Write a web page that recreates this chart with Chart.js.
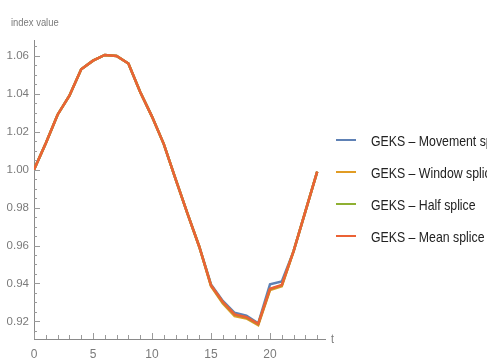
<!DOCTYPE html>
<html>
<head>
<meta charset="utf-8">
<script src="https://cdn.jsdelivr.net/npm/chart.js@4.4.1/dist/chart.umd.min.js"></script>
<style>
  body { margin: 0; background: #fff; overflow: hidden; }
  .wrap { position: relative; width: 487px; height: 358px; overflow: hidden; }
  .narrow { font-family: "Liberation Sans", Arial, sans-serif; transform: scaleX(0.82); transform-origin: left center; white-space: nowrap; }
  .ylabel { position: absolute; left: 11px; top: 16px; font-size: 11.5px; color: #7a7a7a; }
  .xlabel { position: absolute; left: 331px; top: 331px; font-size: 13px; color: #7a7a7a; }
  .legend { position: absolute; left: 336px; top: 124px; white-space: nowrap; }
  .legend .row { height: 32px; display: flex; align-items: center; }
  .legend .swatch { width: 20px; height: 2.5px; margin-right: 15px; flex: none; }
  .legend .txt { display: inline-block; font-size: 15px; color: #222; }
</style>
</head>
<body>
<div class="wrap">
  <canvas id="myChart" width="487" height="358"></canvas>
  <div class="ylabel narrow">index value</div>
  <div class="xlabel narrow">t</div>
  <div class="legend" id="legend"></div>
</div>
<script>
let tValues = [0, 1, 2, 3, 4, 5, 6, 7, 8, 9, 10, 11, 12, 13, 14, 15, 16, 17, 18, 19, 20, 21, 22, 23, 24];

let movementSplice = [1.000, 1.014, 1.029, 1.039, 1.053, 1.0575, 1.0605, 1.060, 1.056, 1.041, 1.028, 1.0135, 0.995, 0.977, 0.9595, 0.9395, 0.9308, 0.9245, 0.9230, 0.9190, 0.9395, 0.9410, 0.957, 0.978, 0.999];
let windowSplice = [1.000, 1.014, 1.029, 1.039, 1.053, 1.0575, 1.0605, 1.060, 1.056, 1.041, 1.028, 1.0135, 0.995, 0.977, 0.9595, 0.9385, 0.9295, 0.9228, 0.9215, 0.9180, 0.9365, 0.9385, 0.957, 0.978, 0.999];
let halfSplice = [1.000, 1.014, 1.029, 1.039, 1.053, 1.0575, 1.0605, 1.060, 1.056, 1.041, 1.028, 1.0135, 0.995, 0.977, 0.9595, 0.9390, 0.9300, 0.9235, 0.9220, 0.9185, 0.9370, 0.9390, 0.957, 0.978, 0.999];
let meanSplice = [1.000, 1.014, 1.029, 1.039, 1.053, 1.0575, 1.0605, 1.060, 1.056, 1.041, 1.028, 1.0135, 0.995, 0.977, 0.9595, 0.9390, 0.9302, 0.9237, 0.9222, 0.9187, 0.9372, 0.9392, 0.957, 0.978, 0.999];

let seriesNames = ["GEKS \u2013 Movement splice", "GEKS \u2013 Window splice", "GEKS \u2013 Half splice", "GEKS \u2013 Mean splice"];
let seriesColors = ["#5e81b5", "#e19c24", "#8fb032", "#eb6235"];

let xTickLabels = [0, 5, 10, 15, 20];
let yTickLabels = [0.92, 0.94, 0.96, 0.98, 1.00, 1.02, 1.04, 1.06];

let allSeries = [movementSplice, windowSplice, halfSplice, meanSplice];

let fontFamily = '"Liberation Sans", Arial, sans-serif';

// inward pointing ticks like the original plot
const innerTicks = {
  id: "innerTicks",
  afterDraw(chart) {
    const ctx = chart.ctx;
    const xs = chart.scales.x;
    const ys = chart.scales.y;
    const area = chart.chartArea;
    ctx.save();
    ctx.strokeStyle = "#9a9a9a";
    ctx.lineWidth = 1;
    ctx.beginPath();
    for (let t = 0; t <= 24; t++) {
      let px = Math.round(xs.getPixelForValue(t)) + 0.5;
      let len = t % 5 === 0 ? 6 : 4;
      ctx.moveTo(px, area.bottom);
      ctx.lineTo(px, area.bottom - len);
    }
    for (let k = 183; k <= 213; k++) {
      let v = k * 0.005;
      let py = Math.round(ys.getPixelForValue(v)) + 0.5;
      let len = k % 4 === 0 ? 6 : 3;
      ctx.moveTo(area.left, py);
      ctx.lineTo(area.left + len, py);
    }
    ctx.stroke();
    ctx.restore();
  },
};

let datasets = [];
for (let i = 0; i < allSeries.length; i++) {
  datasets.push({
    label: seriesNames[i],
    data: tValues.map((t, j) => ({ x: t, y: allSeries[i][j] })),
    borderColor: seriesColors[i],
    backgroundColor: seriesColors[i],
    borderWidth: 2.5,
    pointRadius: 0,
    tension: 0,
    order: allSeries.length - i,
  });
}

let ctx = document.getElementById("myChart").getContext("2d");
let myChart = new Chart(ctx, {
  type: "line",
  data: { datasets: datasets },
  options: {
    responsive: false,
    animation: false,
    layout: { padding: { top: 40, right: 162, left: 0, bottom: 0 } },
    plugins: { legend: { display: false }, tooltip: { enabled: false } },
    scales: {
      x: {
        type: "linear",
        min: 0,
        max: 24.66,
        grid: { display: false, drawTicks: false },
        border: { display: true, color: "#8a8a8a", width: 1 },
        afterFit: (scale) => { scale.height = 19; },
        afterBuildTicks: (scale) => { scale.ticks = xTickLabels.map((v) => ({ value: v })); },
        ticks: {
          padding: 8,
          maxRotation: 0,
          autoSkip: false,
          color: "#7a7a7a",
          font: { family: fontFamily, size: 12 },
          callback: (v) => String(v),
        },
      },
      y: {
        min: 0.9107,
        max: 1.0684,
        grid: { display: false, drawTicks: false },
        border: { display: true, color: "#8a8a8a", width: 1 },
        afterFit: (scale) => { scale.width = 34; },
        afterBuildTicks: (scale) => { scale.ticks = yTickLabels.map((v) => ({ value: v })); },
        ticks: {
          padding: 5,
          autoSkip: false,
          color: "#7a7a7a",
          font: { family: fontFamily, size: 11.5 },
          callback: (v) => v.toFixed(2),
        },
      },
    },
  },
  plugins: [innerTicks],
});

// legend
let legend = document.getElementById("legend");
for (let i = 0; i < seriesNames.length; i++) {
  let row = document.createElement("div");
  row.className = "row";
  let sw = document.createElement("span");
  sw.className = "swatch";
  sw.style.background = seriesColors[i];
  let txt = document.createElement("span");
  txt.className = "txt narrow";
  txt.textContent = seriesNames[i];
  row.appendChild(sw);
  row.appendChild(txt);
  legend.appendChild(row);
}
</script>
</body>
</html>
